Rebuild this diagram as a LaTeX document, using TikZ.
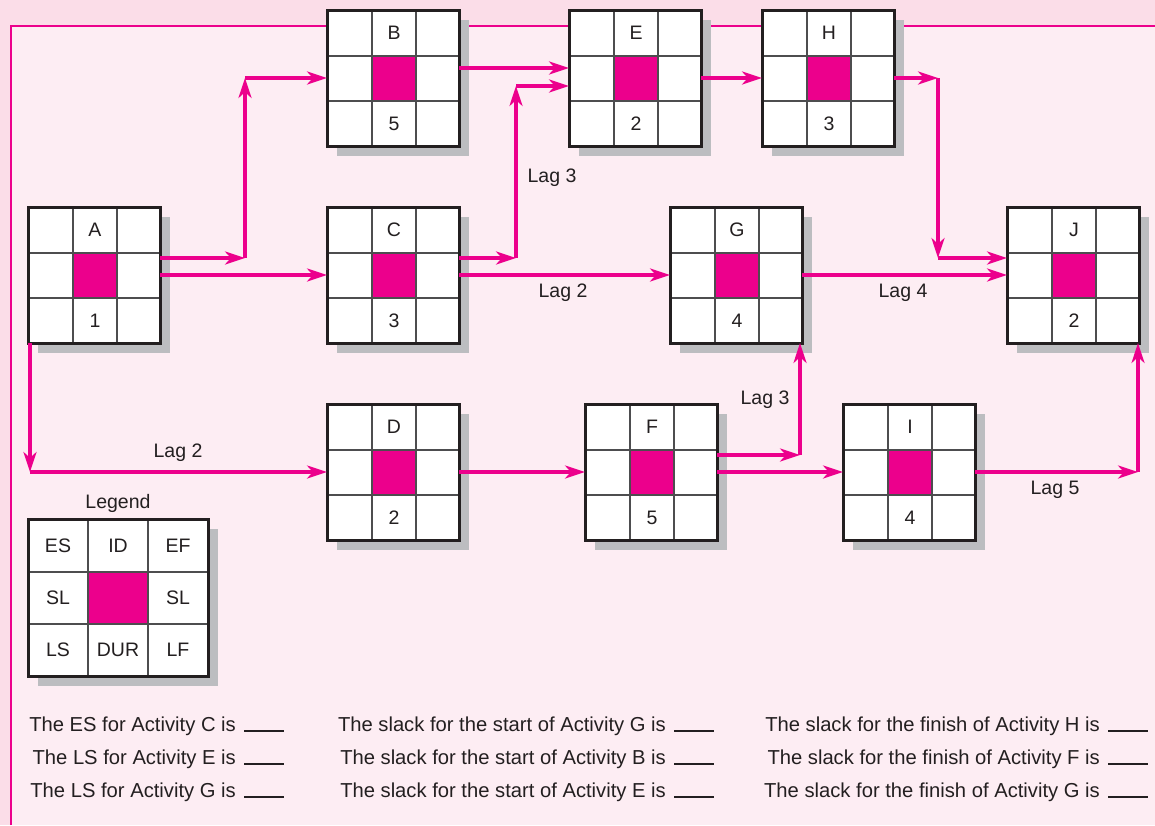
\documentclass[tikz,border=0pt]{standalone}
\usepackage{fontspec}
\setmainfont{Liberation Sans}
\usetikzlibrary{arrows.meta,calc}
\definecolor{mag}{HTML}{EC008C}
\definecolor{outerpink}{HTML}{FBDDE8}
\definecolor{innerpink}{HTML}{FDEDF3}
\definecolor{shadowgray}{HTML}{BCBDC0}
\definecolor{ink}{HTML}{231F20}
\definecolor{gridgray}{HTML}{4D4D4F}
\tikzset{
  txt/.style={text=ink, font=\fontsize{19.5}{22}\selectfont, inner sep=0pt},
  qtxt/.style={text=ink, font=\fontsize{20.2}{23}\selectfont, inner sep=0pt},
  arr/.style={draw=mag, line width=3.2pt, -{Stealth[length=20pt,width=13pt,inset=6pt]}},
  framebox/.style={draw=mag, line width=2.8pt},
  actbox/.style={fill=white, minimum width=132pt, minimum height=136pt, inner sep=0pt, outer sep=0pt},
  legbox/.style={fill=white, minimum width=180pt, minimum height=157pt, inner sep=0pt, outer sep=0pt},
  boxborder/.style={draw=ink, line width=3pt},
  gridline/.style={draw=gridgray, line width=1.3pt},
  blank/.style={draw=ink, line width=1.1pt},
}
\newcommand\actbox[5]{%
  \fill[shadowgray] (#2+10,#3+10) rectangle (#2+142,#3+146);
  \node[actbox, anchor=north west] (#1) at (#2,#3) {};
  \fill[mag] (#2+45,#3+46) rectangle (#2+89,#3+91);
  \draw[gridline] (#2+45,#3) -- (#2+45,#3+136) (#2+89,#3) -- (#2+89,#3+136)
                  (#2,#3+46) -- (#2+132,#3+46) (#2,#3+91) -- (#2+132,#3+91);
  \draw[boxborder] (#1.north west) rectangle (#1.south east);
  \node[txt] (#1-id) at (#2+67,#3+23) {#4};
  \node[txt] (#1-dur) at (#2+67,#3+114) {#5};
}
\newcommand\question[4]{% name, x of blank start, baseline y, text
  \node[qtxt, anchor=base east] (#1) at (#2-8,#3) {#4};
  \draw[blank] (#2,#3) -- (#2+40,#3);
}
\begin{document}
\begin{tikzpicture}[x=1pt,y=-1pt]
\useasboundingbox (0,0) rectangle (1155,825);
% background
\fill[outerpink] (0,0) rectangle (1155,825);
\fill[innerpink] (11,26) rectangle (1155,825);
\draw[framebox] (11,825) -- (11,26) -- (1155,26);
% activity boxes
\actbox{A}{28}{207}{A}{1}
\actbox{B}{327}{10}{B}{5}
\actbox{C}{327}{207}{C}{3}
\actbox{D}{327}{404}{D}{2}
\actbox{E}{569}{10}{E}{2}
\actbox{F}{585}{404}{F}{5}
\actbox{G}{670}{207}{G}{4}
\actbox{H}{762}{10}{H}{3}
\actbox{I}{843}{404}{I}{4}
\actbox{J}{1007}{207}{J}{2}
% corner coordinates
\coordinate (ab1) at (245,258);
\coordinate (ab2) at (245,78);
\coordinate (ad1) at (30,472);
\coordinate (ce1) at (516,258);
\coordinate (ce2) at (516,86);
\coordinate (hj1) at (938,78);
\coordinate (hj2) at (938,258);
\coordinate (fg1) at (800,455);
\coordinate (ij1) at (1138,472);
% connectors
\draw[arr] ($(A.east)+(0,-17)$) -- (ab1);
\draw[arr] (ab1) -- (ab2);
\draw[arr] (ab2) -- (B.west);
\draw[arr] (A.east) -- (C.west);
\draw[arr] ($(A.south west)+(2,0)$) -- (ad1);
\draw[arr] (ad1) -- (D.west);
\draw[arr] ($(B.east)+(0,-10)$) -- ($(E.west)+(0,-10)$);
\draw[arr] ($(C.east)+(0,-17)$) -- (ce1);
\draw[arr] (ce1) -- (ce2);
\draw[arr] (ce2) -- ($(E.west)+(0,8)$);
\draw[arr] (C.east) -- (G.west);
\draw[arr] (E.east) -- (H.west);
\draw[arr] (H.east) -- (hj1);
\draw[arr] (hj1) -- (hj2);
\draw[arr] (hj2) -- ($(J.west)+(0,-17)$);
\draw[arr] (G.east) -- (J.west);
\draw[arr] (D.east) -- (F.west);
\draw[arr] ($(F.east)+(0,-17)$) -- (fg1);
\draw[arr] (fg1) -- ($(G.south east)+(-2,0)$);
\draw[arr] (F.east) -- (I.west);
\draw[arr] (I.east) -- (ij1);
\draw[arr] (ij1) -- ($(J.south east)+(-1,0)$);
% lag labels
\node[txt] (lagAD) at (178,453) {Lag 2};
\node[txt] (lagCE) at (552,178) {Lag 3};
\node[txt] (lagCG) at (563,293) {Lag 2};
\node[txt] (lagGJ) at (903,293) {Lag 4};
\node[txt] (lagFG) at (765,400) {Lag 3};
\node[txt] (lagIJ) at (1055,490) {Lag 5};
% legend
\node[txt] (legtitle) at (118,503) {Legend};
\fill[shadowgray] (38,529) rectangle (218,686);
\node[legbox, anchor=north west] (leg) at (28,519) {};
\fill[mag] (88,572) rectangle (148,624);
\draw[gridline] (88,519) -- (88,676) (148,519) -- (148,676) (28,572) -- (208,572) (28,624) -- (208,624);
\draw[boxborder] (leg.north west) rectangle (leg.south east);
\node[txt] (lES) at (58,546) {ES};
\node[txt] (lID) at (118,546) {ID};
\node[txt] (lEF) at (178,546) {EF};
\node[txt] (lSL1) at (58,598) {SL};
\node[txt] (lSL2) at (178,598) {SL};
\node[txt] (lLS) at (58,650) {LS};
\node[txt] (lDUR) at (118,650) {DUR};
\node[txt] (lLF) at (178,650) {LF};
% questions
\question{q1}{244}{731}{The ES for Activity C is}
\question{q2}{244}{764}{The LS for Activity E is}
\question{q3}{244}{797}{The LS for Activity G is}
\question{q4}{674}{731}{The slack for the start of Activity G is}
\question{q5}{674}{764}{The slack for the start of Activity B is}
\question{q6}{674}{797}{The slack for the start of Activity E is}
\question{q7}{1108}{731}{The slack for the finish of Activity H is}
\question{q8}{1108}{764}{The slack for the finish of Activity F is}
\question{q9}{1108}{797}{The slack for the finish of Activity G is}
\end{tikzpicture}
\end{document}
